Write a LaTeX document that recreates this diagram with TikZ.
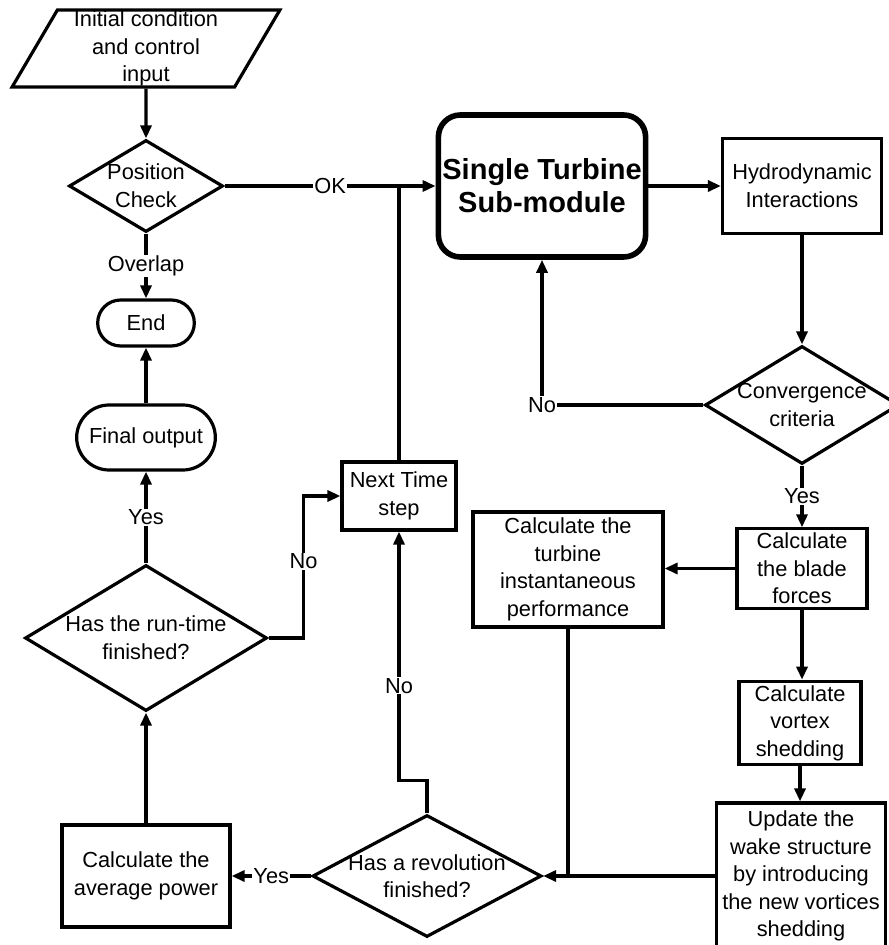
\documentclass[tikz,border=0pt]{standalone}
\usepackage{fontspec}
\setmainfont{Liberation Sans}
\usetikzlibrary{arrows.meta,shapes.geometric,shapes.misc}
\definecolor{TtInk}{RGB}{0,0,0}
\newcommand{\flowfont}{\fontsize{10.9}{13.8}\selectfont}
\tikzset{
  tt/box/.style={
    draw=TtInk,
    line width=1.6pt,
    fill=white,
    align=center,
    text=TtInk,
    inner sep=2pt,
    font=\flowfont
  },
  tt/module/.style={
    draw=TtInk,
    line width=2.8pt,
    rounded corners=11pt,
    fill=white,
    align=center,
    text=TtInk,
    inner sep=2pt,
    font=\fontsize{14.5}{16.5}\selectfont\bfseries
  },
  tt/terminal/.style={
    rounded rectangle,
    draw=TtInk,
    line width=1.6pt,
    fill=white,
    align=center,
    text=TtInk,
    font=\flowfont
  },
  tt/io/.style={
    trapezium,
    trapezium left angle=64,
    trapezium right angle=116,
    trapezium stretches=true,
    draw=TtInk,
    line width=1.6pt,
    fill=white,
    inner sep=0pt,
    align=center,
    text=TtInk,
    font=\flowfont
  },
  tt/decision/.style={diamond, draw=TtInk, line width=1.6pt, fill=white, inner sep=0pt},
  tt/dtext/.style={align=center, text=TtInk, inner sep=0pt, font=\flowfont},
  tt/arrow/.style={-{Triangle[length=6.5pt,width=5.5pt]}, line width=1.6pt, draw=TtInk},
  tt/line/.style={line width=1.6pt, draw=TtInk},
  tt/tag/.style={fill=white, inner sep=0.5pt, text=TtInk, font=\flowfont}
}
\begin{document}
\begin{tikzpicture}[x=0.5pt,y=-0.5pt]
  \path[use as bounding box, fill=white] (0,0) rectangle (888,945);

  \node[tt/io, minimum width=134pt, minimum height=38.5pt] (init) at (146,48.5) {Initial condition\\and control\\input};
  \node[tt/decision, minimum width=77pt, minimum height=46pt,
        label={[tt/dtext]center:Position\\Check}] (pos) at (146,186) {};
  \node[tt/terminal, minimum width=55pt, minimum height=23pt] (endn) at (146,323) {End};
  \node[tt/terminal, minimum width=76pt, minimum height=32.5pt] (final) at (146,437.5) {Final output};
  \node[tt/decision, minimum width=121pt, minimum height=73pt,
        label={[tt/dtext]center:Has the run-time\\finished?}] (runtime) at (146,638) {};
  \node[tt/box, minimum width=57pt, minimum height=34pt] (next) at (399,496) {Next Time\\step};
  \node[tt/module, minimum width=103pt, minimum height=71pt] (turb) at (542,186) {Single Turbine\\Sub-module};
  \node[tt/box, minimum width=79.5pt, minimum height=47.5pt] (hydro) at (802,186) {Hydrodynamic\\Interactions};
  \node[tt/decision, minimum width=97pt, minimum height=59pt,
        label={[tt/dtext]center:Convergence\\criteria}] (conv) at (802,405) {};
  \node[tt/box, minimum width=65pt, minimum height=39.5pt] (blade) at (802,568.5) {Calculate\\the blade\\forces};
  \node[tt/box, minimum width=95pt, minimum height=57.5pt] (perf) at (568,569.5) {Calculate the\\turbine\\instantaneous\\performance};
  \node[tt/box, minimum width=61pt, minimum height=40pt] (vortex) at (800,723) {Calculate\\vortex\\shedding};
  \node[tt/box, minimum width=84.5pt, minimum height=73pt] (update) at (801,876) {Update the\\wake structure\\by introducing\\the new vortices\\shedding};
  \node[tt/decision, minimum width=114.5pt, minimum height=61pt,
        label={[tt/dtext]center:Has a revolution\\finished?}] (rev) at (427,876) {};
  \node[tt/box, minimum width=84pt, minimum height=51pt] (avg) at (146,876) {Calculate the\\average power};

  \draw[tt/arrow] (init.south) -- (pos.north);
  \draw[tt/arrow] (pos.south) -- node[tt/tag]{Overlap} (endn.north);
  \draw[tt/arrow] (final.north) -- (endn.south);
  \draw[tt/arrow] (runtime.north) -- node[tt/tag]{Yes} (final.south);
  \draw[tt/arrow] (runtime.east) -- ++(35,0) |- node[tt/tag,pos=0.27]{No} (next.west);
  \draw[tt/line] (next.north) -- (next.north |- pos.east);
  \draw[tt/arrow] (pos.east) -- node[tt/tag]{OK} (turb.west);
  \draw[tt/arrow] (turb.east) -- (hydro.west);
  \draw[tt/arrow] (hydro.south) -- (conv.north);
  \draw[tt/arrow] (conv.west) -- (turb.south |- conv.west) node[tt/tag]{No} -- (turb.south);
  \draw[tt/arrow] (conv.south) -- node[tt/tag]{Yes} (blade.north);
  \draw[tt/arrow] (blade.west) -- (blade.west -| perf.east);
  \draw[tt/arrow] (blade.south) -- (blade.south |- vortex.north);
  \draw[tt/arrow] (vortex.south) -- (vortex.south |- update.north);
  \draw[tt/arrow] (update.west) -- (rev.east);
  \draw[tt/line] (perf.south) -- (perf.south |- rev.east);
  \draw[tt/arrow] (rev.north) -- ++(0,-33) -| node[tt/tag,pos=0.69]{No} (next.south);
  \draw[tt/arrow] (rev.west) -- node[tt/tag]{Yes} (rev.west -| avg.east);
  \draw[tt/arrow] (avg.north) -- (runtime.south);
\end{tikzpicture}
\end{document}
